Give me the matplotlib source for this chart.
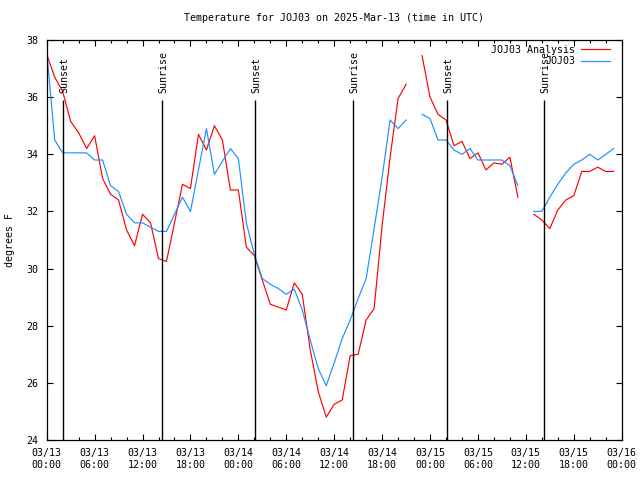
import numpy as np
import matplotlib
matplotlib.use("Agg")
import matplotlib.pyplot as plt

nan = np.nan

# hours since 03/13 00:00 UTC
hours = list(range(72))

analysis = [37.5, 36.7, 36.2, 35.15, 34.75, 34.2, 34.65, 33.15, 32.6, 32.4,
            31.35, 30.8, 31.9, 31.6, 30.35, 30.25, 31.6, 32.95, 32.8, 34.7,
            34.15, 35.0, 34.5, 32.75, 32.75, 30.75, 30.45, 29.6, 28.75, 28.65,
            28.55, 29.5, 29.1, 27.15, 25.7, 24.8, 25.25, 25.4, 26.95, 27.0,
            28.2, 28.6, 31.5, 33.9, 35.95, 36.45, nan, 37.45, 36.0, 35.4,
            35.2, 34.3, 34.45, 33.85, 34.05, 33.45, 33.7, 33.65, 33.9, 32.5,
            nan, 31.9, 31.7, 31.4, 32.05, 32.4, 32.55, 33.4, 33.4, 33.55,
            33.4, 33.4]

observed = [37.6, 34.5, 34.05, 34.05, 34.05, 34.05, 33.8, 33.8, 32.9, 32.7,
            31.9, 31.6, 31.6, 31.45, 31.3, 31.3, 31.9, 32.5, 32.0, 33.45,
            34.9, 33.3, 33.75, 34.2, 33.85, 31.6, 30.5, 29.65, 29.45, 29.3,
            29.1, 29.28, 28.55, 27.5, 26.5, 25.9, 26.7, 27.55, 28.2, 28.95,
            29.65, 31.4, 33.2, 35.2, 34.9, 35.2, nan, 35.4, 35.25, 34.5,
            34.5, 34.15, 34.0, 34.2, 33.8, 33.8, 33.8, 33.8, 33.6, 32.9,
            nan, 32.0, 32.0, 32.5, 32.95, 33.35, 33.65, 33.8, 34.0, 33.8,
            34.0, 34.2]

sunsets = [2.08, 26.1, 50.15]
sunrises = [14.5, 38.4, 62.3]

tick_hours = list(range(0, 73, 6))
tick_labels = ["03/13\n00:00", "03/13\n06:00", "03/13\n12:00", "03/13\n18:00",
               "03/14\n00:00", "03/14\n06:00", "03/14\n12:00", "03/14\n18:00",
               "03/15\n00:00", "03/15\n06:00", "03/15\n12:00", "03/15\n18:00",
               "03/16\n00:00"]

plt.rcParams['font.family'] = ['DejaVu Sans Mono']
fs = 7.2

fig = plt.figure(figsize=(6.4, 4.8), dpi=100)
ax = fig.add_axes([46.7 / 640, 1 - 440 / 480, (621.7 - 46.7) / 640, 400 / 480])

ax.plot(hours, analysis, color='#ff0000', lw=0.85, label='JOJ03 Analysis')
ax.plot(hours, observed, color='#1e90ff', lw=0.85, label='JOJ03')

for t in sunsets:
    ax.vlines(t, 24, 35.9, color='black', lw=1.0)
    ax.text(t + 0.1, 36.15, 'Sunset', rotation=90, ha='center', va='bottom', fontsize=fs)
for t in sunrises:
    ax.vlines(t, 24, 35.9, color='black', lw=1.0)
    ax.text(t + 0.1, 36.15, 'Sunrise', rotation=90, ha='center', va='bottom', fontsize=fs)

ax.set_xlim(0, 72)
ax.set_ylim(24, 38)
ax.set_xticks(tick_hours)
ax.set_xticklabels(tick_labels, fontsize=fs, linespacing=1.25)
ax.set_xticks(range(0, 73, 2), minor=True)
ax.set_yticks(range(24, 39, 2))
ax.set_yticklabels([str(v) for v in range(24, 39, 2)], fontsize=fs)
ax.tick_params(which='both', direction='in', top=True, right=True, width=0.8)
ax.tick_params(which='major', length=4, pad=6)
ax.tick_params(which='minor', length=2.2)
for s in ax.spines.values():
    s.set_linewidth(0.9)

ax.set_title('Temperature for JOJ03 on 2025-Mar-13 (time in UTC)', fontsize=fs, pad=14)
fig.text(10 / 640, 0.5, 'degrees F', rotation=90, ha='center', va='center', fontsize=fs)

ax.legend(loc='upper right', bbox_to_anchor=(0.985, 0.995), frameon=False,
          markerfirst=False, fontsize=fs, handlelength=2.9, handletextpad=0.6,
          labelspacing=0.15, borderaxespad=0, borderpad=0.3)

fig.savefig('out.png', dpi=100)
